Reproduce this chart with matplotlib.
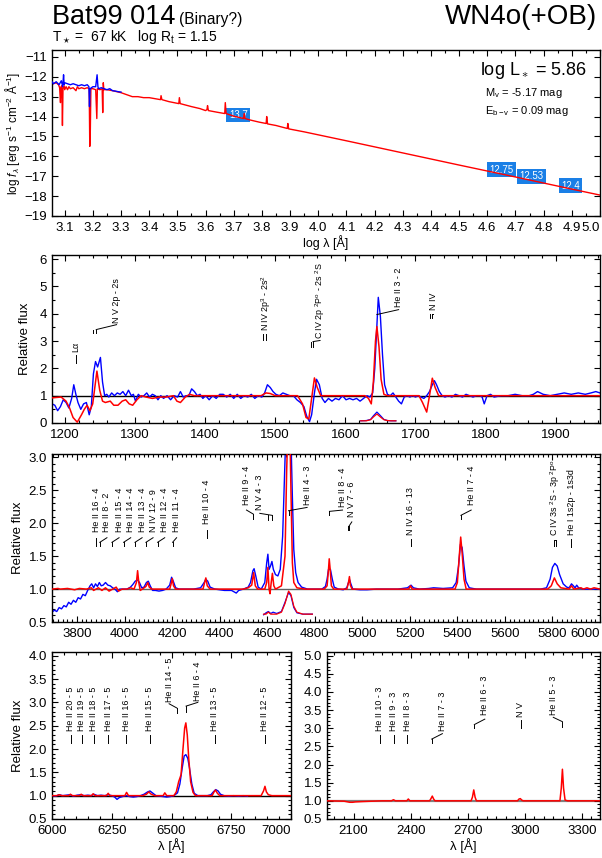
import numpy as np
import matplotlib
matplotlib.use("Agg")
import matplotlib.pyplot as plt
from matplotlib.ticker import MultipleLocator, FormatStrFormatter

# ---------------- data ----------------
# SED panel (log lambda / log f_lambda)
sed_model_x = [3.055, 3.060, 3.070, 3.078, 3.082, 3.085, 3.087, 3.090, 3.092, 3.094, 3.098,
               3.100, 3.105, 3.110, 3.115, 3.120, 3.130, 3.140, 3.145, 3.150, 3.160, 3.170,
               3.180, 3.187, 3.189, 3.191, 3.193, 3.200, 3.210, 3.214, 3.216, 3.225, 3.233,
               3.235, 3.237, 3.239, 3.250, 3.270, 3.300, 3.320, 3.330, 3.340, 3.360, 3.380,
               3.400, 3.440, 3.442, 3.445, 3.470, 3.505, 3.507, 3.510, 3.550, 3.580, 3.600,
               3.605, 3.607, 3.610, 3.640, 3.668, 3.670, 3.673, 3.700, 3.735, 3.737, 3.740,
               3.760, 3.790, 3.815, 3.817, 3.820, 3.850, 3.890, 3.892, 3.895, 3.950, 4.100,
               4.300, 4.500, 4.700, 4.900, 5.000]
sed_model_y = [-12.28, -12.35, -12.30, -12.40, -12.55, -13.30, -12.50, -12.45, -14.45, -12.60, -12.45,
               -12.65, -12.50, -12.65, -12.50, -12.60, -12.55, -12.70, -12.50, -12.60, -12.55, -12.60,
               -12.55, -12.60, -15.50, -14.70, -12.60, -12.60, -12.65, -14.10, -12.60, -12.65, -12.60,
               -13.80, -12.30, -12.65, -12.65, -12.70, -12.80, -12.90, -12.95, -13.00, -13.00, -13.05,
               -13.05, -13.15, -12.95, -13.15, -13.25, -13.35, -13.05, -13.35, -13.50, -13.60, -13.70,
               -13.65, -13.45, -13.70, -13.78, -13.85, -13.30, -13.85, -13.98, -14.10, -13.85, -14.10,
               -14.18, -14.28, -14.35, -14.00, -14.37, -14.45, -14.60, -14.35, -14.62, -14.77, -15.22,
               -15.83, -16.44, -17.04, -17.65, -17.95]
sed_obs_x = [3.055, 3.060, 3.070, 3.080, 3.088, 3.093, 3.096, 3.098, 3.100, 3.110, 3.120,
             3.130, 3.140, 3.150, 3.160, 3.170, 3.180, 3.186, 3.188, 3.190, 3.200, 3.210,
             3.215, 3.218, 3.220, 3.230, 3.240, 3.250, 3.260, 3.270, 3.280, 3.290, 3.300]
sed_obs_y = [-12.25, -12.35, -12.25, -12.40, -12.20, -12.50, -11.90, -12.40, -12.30, -12.35, -12.40,
             -12.35, -12.40, -12.45, -12.40, -12.45, -12.40, -12.50, -13.50, -12.60, -12.50, -12.50,
             -11.90, -12.50, -12.60, -12.55, -12.60, -12.65, -12.60, -12.70, -12.72, -12.75, -12.77]
phot_x = [3.716, 4.650, 4.757, 4.895]
phot_y = [-13.92, -16.68, -17.00, -17.48]
phot_mag = ["13.7", "12.75", "12.53", "12.4"]

# UV panel
uv_obs_w = [1182, 1186, 1190, 1194, 1198, 1202, 1206, 1210, 1213, 1216, 1219, 1223, 1227, 1231,
            1235, 1238, 1241, 1244, 1247, 1251, 1254, 1257, 1260, 1263, 1267, 1271, 1275, 1279,
            1283, 1287, 1291, 1295, 1298, 1301, 1305, 1309, 1313, 1317, 1321, 1325, 1329, 1333,
            1337, 1341, 1346, 1351, 1356, 1361, 1365, 1369, 1373, 1377, 1381, 1385, 1389, 1393,
            1397, 1401, 1406, 1411, 1416, 1421, 1426, 1431, 1436, 1441, 1446, 1451, 1456, 1461,
            1466, 1471, 1476, 1481, 1485, 1489, 1493, 1497, 1501, 1506, 1511, 1516, 1521, 1526,
            1531, 1536, 1541, 1545, 1549, 1552, 1556, 1559, 1563, 1567, 1571, 1576, 1581, 1586,
            1591, 1596, 1601, 1606, 1611, 1616, 1621, 1626, 1631, 1635, 1639, 1642, 1645, 1647,
            1650, 1653, 1656, 1660, 1664, 1668, 1672, 1676, 1680, 1684, 1688, 1692, 1696, 1700,
            1704, 1708, 1712, 1716, 1720, 1724, 1727, 1730, 1734, 1738, 1742, 1747, 1752, 1757,
            1762, 1767, 1772, 1777, 1782, 1787, 1792, 1795, 1798, 1802, 1807, 1812, 1822, 1832,
            1842, 1852, 1862, 1868, 1874, 1882, 1892, 1902, 1912, 1922, 1932, 1942, 1950, 1957,
            1963]
uv_obs_f = [0.70, 0.65, 0.45, 0.60, 0.85, 0.75, 0.55, 0.90, 1.40, 1.05, 0.75, 0.50, 0.70, 0.75,
            0.30, 0.60, 1.80, 2.25, 2.05, 2.40, 1.50, 1.00, 1.05, 0.95, 1.10, 1.00, 1.10, 1.05,
            1.15, 1.00, 1.20, 1.00, 1.05, 0.80, 1.05, 0.95, 1.00, 1.10, 0.95, 1.05, 1.00, 0.85,
            1.00, 0.90, 1.00, 0.85, 1.00, 0.95, 1.15, 0.95, 1.00, 1.00, 1.25, 1.15, 1.00, 1.05,
            0.90, 1.00, 0.85, 1.00, 0.90, 1.05, 1.05, 0.95, 1.05, 0.90, 1.05, 0.90, 1.00, 0.95,
            1.05, 0.90, 1.00, 0.95, 1.10, 1.40, 1.30, 1.15, 1.05, 1.00, 1.10, 1.05, 1.00, 1.00,
            0.85, 0.75, 0.60, 0.25, 0.05, 0.30, 1.10, 1.60, 1.40, 0.90, 0.75, 0.90, 0.80, 0.90,
            0.85, 1.00, 0.85, 0.90, 0.85, 0.90, 0.80, 0.90, 1.00, 0.95, 1.10, 2.00, 3.60, 4.60,
            3.90, 2.50, 1.40, 1.05, 1.00, 1.10, 0.95, 0.80, 0.70, 0.95, 1.00, 0.95, 1.00, 0.95,
            1.00, 0.95, 0.90, 1.00, 1.15, 1.40, 1.55, 1.40, 1.15, 1.00, 0.95, 1.00, 0.95, 1.05,
            1.00, 0.95, 1.05, 1.00, 0.95, 1.00, 1.00, 0.95, 0.70, 1.00, 1.05, 0.95, 1.00, 1.00,
            1.05, 1.00, 1.00, 1.05, 1.15, 1.05, 1.00, 1.05, 1.10, 1.05, 1.10, 1.05, 1.10, 1.15,
            1.10]
uv_mod_w = [1182, 1195, 1202, 1207, 1212, 1218, 1224, 1228, 1232, 1236, 1240, 1243, 1246, 1250,
            1254, 1258, 1265, 1270, 1276, 1282, 1287, 1292, 1297, 1303, 1309, 1316, 1325, 1335,
            1345, 1355, 1360, 1365, 1372, 1378, 1385, 1480, 1487, 1493, 1500, 1532, 1539, 1544,
            1548, 1552, 1556, 1560, 1565, 1628, 1633, 1637, 1640, 1643, 1645, 1648, 1651, 1655,
            1660, 1705, 1710, 1716, 1720, 1724, 1728, 1733, 1963]
uv_mod_f = [0.92, 0.95, 0.80, 0.55, 0.20, 0.03, 0.30, 0.50, 0.65, 0.45, 0.70, 1.30, 1.90, 1.20,
            0.80, 0.75, 0.80, 0.65, 0.65, 0.80, 0.85, 0.70, 0.65, 0.85, 1.00, 0.95, 0.90, 0.95,
            0.95, 1.00, 0.80, 0.75, 0.95, 1.05, 1.00, 1.00, 1.10, 1.08, 1.00, 1.00, 0.70, 0.20,
            0.15, 0.90, 1.65, 1.30, 1.00, 1.00, 0.90, 0.70, 1.50, 3.00, 3.53, 2.80, 1.60, 1.05,
            1.00, 1.00, 0.75, 0.40, 1.00, 1.64, 1.30, 1.00, 1.00]
uv_inset_w = [1622, 1630, 1636, 1640, 1645, 1650, 1655, 1660, 1665, 1672]
uv_inset_mod = [0.08, 0.08, 0.12, 0.22, 0.33, 0.22, 0.12, 0.09, 0.08, 0.08]
uv_inset_obs = [0.08, 0.09, 0.13, 0.26, 0.40, 0.27, 0.13, 0.09, 0.08, 0.08]

# optical panel
opt_obs_w = [3695, 3705, 3715, 3725, 3735, 3745, 3755, 3765, 3775, 3785, 3795, 3805, 3815, 3825,
             3835, 3845, 3855, 3862, 3870, 3878, 3886, 3894, 3902, 3910, 3920, 3930, 3940, 3950,
             3960, 3970, 3980, 3995, 4010, 4025, 4035, 4045, 4055, 4063, 4072, 4082, 4092, 4100,
             4108, 4118, 4130, 4145, 4160, 4175, 4190, 4198, 4205, 4215, 4230, 4260, 4290, 4320,
             4335, 4342, 4350, 4360, 4380, 4420, 4450, 4470, 4480, 4500, 4520, 4530, 4540, 4545,
             4552, 4562, 4575, 4590, 4598, 4603, 4608, 4614, 4620, 4626, 4635, 4645, 4655, 4665,
             4672, 4678, 4700, 4706, 4712, 4720, 4730, 4745, 4770, 4800, 4830, 4845, 4852, 4858,
             4866, 4874, 4882, 4900, 4920, 4935, 4942, 4947, 4952, 4960, 4990, 5020, 5060, 5100,
             5150, 5190, 5205, 5215, 5240, 5280, 5300, 5340, 5380, 5395, 5405, 5413, 5420, 5428,
             5436, 5450, 5480, 5550, 5600, 5650, 5700, 5750, 5775, 5790, 5800, 5810, 5820, 5830,
             5845, 5860, 5870, 5880, 5888, 5895, 5902, 5910, 5930, 5960, 6000]
opt_obs_f = [0.65, 0.68, 0.66, 0.72, 0.70, 0.75, 0.73, 0.80, 0.77, 0.83, 0.80, 0.87, 0.85, 0.92,
             0.90, 0.98, 1.05, 1.08, 1.02, 1.08, 1.04, 1.10, 1.05, 1.06, 1.10, 1.06, 1.05, 1.02,
             1.00, 0.96, 1.00, 1.00, 1.00, 1.03, 1.07, 1.12, 1.14, 1.10, 1.02, 1.03, 1.10, 1.12,
             1.05, 0.98, 0.98, 0.97, 0.98, 1.00, 1.06, 1.18, 1.12, 1.02, 1.00, 1.00, 1.00, 1.02,
             1.10, 1.15, 1.12, 1.03, 1.00, 0.98, 0.98, 0.94, 0.98, 1.00, 1.03, 1.10, 1.28, 1.31,
             1.20, 1.03, 1.00, 1.10, 1.40, 1.53, 1.30, 1.35, 1.42, 1.30, 1.22, 1.20, 1.30, 1.80,
             2.60, 3.30, 3.30, 2.40, 1.60, 1.25, 1.10, 1.03, 1.00, 1.00, 1.00, 1.04, 1.15, 1.30,
             1.30, 1.15, 1.03, 1.00, 0.99, 1.02, 1.10, 1.14, 1.08, 1.00, 0.99, 0.99, 1.00, 1.00,
             1.00, 1.02, 1.06, 1.02, 1.00, 1.01, 1.02, 1.01, 1.02, 1.10, 1.35, 1.68, 1.63, 1.35,
             1.12, 1.02, 1.00, 1.00, 1.00, 1.00, 1.00, 1.00, 1.02, 1.15, 1.33, 1.39, 1.35, 1.22,
             1.08, 1.03, 1.02, 1.08, 1.05, 1.02, 1.06, 1.02, 1.00, 1.00, 1.00]
opt_mod_w = [3695, 3720, 3730, 3760, 3790, 3810, 3840, 3860, 3870, 3890, 3905, 3920, 3935, 3950,
             3965, 3975, 3990, 4010, 4025, 4040, 4050, 4055, 4060, 4066, 4075, 4090, 4098, 4104,
             4115, 4150, 4190, 4196, 4201, 4206, 4215, 4300, 4330, 4337, 4342, 4348, 4360, 4500,
             4520, 4535, 4543, 4550, 4560, 4590, 4598, 4603, 4608, 4612, 4617, 4622, 4628, 4635,
             4660, 4675, 4682, 4686, 4696, 4700, 4706, 4712, 4725, 4760, 4840, 4852, 4858, 4861,
             4865, 4870, 4880, 4935, 4942, 4946, 4950, 4957, 5195, 5203, 5210, 5390, 5400, 5408,
             5414, 5420, 5428, 5437, 5780, 5795, 5808, 5820, 5835, 5870, 5880, 5890, 5920, 5930,
             5945, 5960, 5975, 6000]
opt_mod_f = [1.00, 1.01, 1.00, 1.01, 0.99, 1.01, 1.00, 1.02, 0.98, 1.02, 0.98, 1.02, 0.97, 1.00,
             1.03, 0.97, 1.00, 1.00, 1.02, 1.00, 1.10, 1.28, 1.10, 0.98, 1.00, 1.04, 1.10, 1.03,
             1.00, 1.00, 1.00, 1.08, 1.16, 1.05, 1.00, 1.00, 1.00, 1.10, 1.17, 1.05, 1.00, 1.00,
             1.02, 1.06, 1.25, 1.05, 1.00, 1.00, 1.10, 1.33, 1.00, 0.93, 1.10, 1.24, 1.05, 1.00,
             1.05, 1.50, 2.80, 3.30, 3.30, 2.50, 1.40, 1.10, 1.02, 1.00, 1.00, 1.05, 1.30, 1.46,
             1.30, 1.05, 1.00, 1.00, 1.10, 1.19, 1.06, 1.00, 1.00, 1.05, 1.00, 1.00, 1.10, 1.50,
             1.79, 1.55, 1.15, 1.00, 1.00, 1.05, 1.17, 1.08, 1.02, 1.00, 1.05, 1.00, 1.02, 1.00,
             1.02, 1.00, 1.02, 1.00]
opt_inset_w = [4585, 4595, 4605, 4615, 4625, 4640, 4660, 4675, 4690, 4700, 4712, 4725, 4750, 4790]
opt_inset_mod = [0.62, 0.62, 0.65, 0.62, 0.62, 0.62, 0.65, 0.78, 0.97, 0.92, 0.74, 0.65, 0.62, 0.62]
opt_inset_obs = [0.61, 0.64, 0.66, 0.63, 0.65, 0.63, 0.66, 0.80, 0.95, 0.90, 0.72, 0.64, 0.62, 0.62]

# red optical panel
red_mod_w = [6000, 6020, 6030, 6040, 6070, 6077, 6085, 6115, 6122, 6130, 6165, 6172, 6180, 6228,
             6235, 6242, 6305, 6312, 6320, 6380, 6395, 6405, 6415, 6430, 6465, 6472, 6480, 6510,
             6520, 6530, 6540, 6548, 6555, 6560, 6566, 6572, 6580, 6590, 6600, 6670, 6678, 6684,
             6692, 6702, 6875, 6885, 6891, 6897, 6905, 6920, 7000]
red_mod_f = [1.00, 1.00, 1.02, 1.00, 1.00, 1.03, 1.00, 1.00, 1.03, 1.00, 1.00, 1.04, 1.00, 1.00,
             1.05, 1.00, 1.00, 1.07, 1.00, 1.00, 1.03, 1.08, 1.03, 1.00, 1.00, 1.06, 1.00, 1.00,
             1.08, 1.30, 1.45, 2.00, 2.45, 2.56, 2.30, 1.80, 1.30, 1.07, 1.00, 1.00, 1.08, 1.12,
             1.05, 1.00, 1.00, 1.10, 1.20, 1.08, 1.02, 1.00, 1.00]
red_obs_w = [6000, 6015, 6030, 6045, 6060, 6075, 6090, 6105, 6120, 6135, 6150, 6165, 6175, 6190,
             6205, 6220, 6235, 6250, 6262, 6272, 6282, 6295, 6310, 6325, 6340, 6355, 6370, 6385,
             6400, 6410, 6420, 6435, 6450, 6465, 6480, 6495, 6510, 6525, 6535, 6545, 6553, 6560,
             6568, 6575, 6585, 6595, 6610, 6630, 6650, 6665, 6675, 6685, 6695, 6705, 6720, 6740,
             6760, 6780, 6800, 6818]
red_obs_f = [1.00, 0.99, 1.02, 1.00, 1.01, 1.02, 0.99, 1.01, 1.02, 1.00, 1.01, 1.00, 1.03, 1.00,
             1.01, 1.00, 1.02, 1.00, 0.97, 0.92, 0.96, 0.98, 1.00, 0.98, 0.97, 0.98, 1.00, 1.03,
             1.08, 1.10, 1.06, 1.00, 0.99, 0.98, 0.97, 0.98, 1.00, 1.06, 1.25, 1.60, 1.85, 1.88,
             1.80, 1.60, 1.25, 1.05, 1.00, 1.00, 1.00, 1.02, 1.08, 1.13, 1.10, 1.03, 1.00, 0.99,
             1.00, 0.99, 1.00, 0.99]

# near-UV panel
nuv_mod_w = [1960, 2050, 2080, 2095, 2110, 2150, 2200, 2250, 2300, 2310, 2320, 2380, 2388, 2396,
             2500, 2507, 2514, 2521, 2528, 2718, 2725, 2732, 2739, 2746, 2962, 2970, 2977, 2984,
             2992, 3185, 3192, 3198, 3204, 3212, 3225, 3395]
nuv_mod_f = [1.00, 0.99, 0.96, 0.96, 0.97, 0.98, 0.99, 1.00, 1.00, 1.03, 1.00, 1.00, 1.05, 1.00,
             1.00, 1.06, 1.13, 1.05, 1.00, 1.00, 1.10, 1.30, 1.10, 1.00, 1.00, 1.05, 1.06, 1.02,
             1.00, 1.00, 1.35, 1.87, 1.35, 1.02, 1.00, 1.00]

# tick labels
sed_xticks = [3.1, 3.2, 3.3, 3.4, 3.5, 3.6, 3.7, 3.8, 3.9, 4.0,
              4.1, 4.2, 4.3, 4.4, 4.5, 4.6, 4.7, 4.8, 4.9, 5.0]
opt_xticks = [3800, 4000, 4200, 4400, 4600, 4800, 5000, 5200, 5400, 5600, 5800, 6000]
red_xticks = [6000, 6250, 6500, 6750, 7000]

# line identifications: (label, line positions, tick y0, tick y1, text x, connector end y, text y)
uv_ids = [
    ("Lα", [1216], 2.20, 2.50, 1216, 2.50, 2.60),
    ("N V 2p - 2s", [1241, 1245], 3.30, 3.42, 1274, 3.60, 3.66),
    ("N IV 2p$^3$ - 2s$^2$", [1483, 1487], 3.05, 3.25, 1487, 3.25, 3.35),
    ("C IV 2p $^2$P$^\\mathrm{o}$ - 2s $^2$S", [1551, 1554], 2.80, 2.98, 1564, 3.02, 3.08),
    ("He II 3 - 2", [1645], 3.97, 3.97, 1676, 4.15, 4.25),
    ("N IV", [1721, 1724], 3.85, 4.00, 1725, 4.00, 4.13),
]
opt_ids = [
    ("He II 16 - 4", [3882], 1.66, 1.77, 3882, 1.77, 1.86),
    ("He II 8 - 2", [3896], 1.66, 1.71, 3926, 1.78, 1.86),
    ("He II 15 - 4", [3947], 1.66, 1.71, 3977, 1.78, 1.86),
    ("He II 14 - 4", [3996], 1.66, 1.71, 4026, 1.78, 1.86),
    ("He II 13 - 4", [4044], 1.66, 1.71, 4074, 1.78, 1.86),
    ("N IV 12 - 9", [4090], 1.66, 1.71, 4120, 1.78, 1.86),
    ("He II 12 - 4", [4139], 1.66, 1.71, 4169, 1.78, 1.86),
    ("He II 11 - 4", [4202], 1.66, 1.71, 4219, 1.78, 1.86),
    ("He II 10 - 4", [4345], 1.77, 1.89, 4345, 1.89, 1.99),
    ("He II 9 - 4", [4541], 2.06, 2.14, 4513, 2.20, 2.27),
    ("N V 4 - 3", [4604, 4620], 2.05, 2.12, 4569, 2.15, 2.20),
    ("He II 4 - 3", [4690], 2.12, 2.19, 4768, 2.24, 2.27),
    ("He II 8 - 4", [4862], 2.12, 2.18, 4917, 2.20, 2.24),
    ("N V 7 - 6", [4940, 4945], 1.89, 1.96, 4956, 2.02, 2.09),
    ("N IV 16 - 13", [5204], 1.65, 1.76, 5204, 1.76, 1.82),
    ("He II 7 - 4", [5415], 2.06, 2.12, 5458, 2.20, 2.27),
    ("C IV 3s $^2$S - 3p $^2$P$^\\mathrm{o}$", [5807, 5813], 1.65, 1.75, 5811, 1.75, 1.81),
    ("He I 1s2p - 1s3d", [5880], 1.64, 1.76, 5880, 1.76, 1.82),
]
red_ids = [
    ("He II 20 - 5", [6078], 2.13, 2.30, 6078, 2.30, 2.38),
    ("He II 19 - 5", [6124], 2.13, 2.30, 6124, 2.30, 2.38),
    ("He II 18 - 5", [6175], 2.13, 2.30, 6175, 2.30, 2.38),
    ("He II 17 - 5", [6235], 2.13, 2.30, 6235, 2.30, 2.38),
    ("He II 16 - 5", [6311], 2.13, 2.30, 6311, 2.30, 2.38),
    ("He II 15 - 5", [6408], 2.13, 2.30, 6408, 2.30, 2.38),
    ("He II 14 - 5", [6522], 2.77, 2.88, 6490, 2.97, 3.00),
    ("He II 6 - 4", [6561], 2.80, 2.92, 6610, 3.00, 3.03),
    ("He II 13 - 5", [6680], 2.13, 2.30, 6680, 2.30, 2.38),
    ("He II 12 - 5", [6890], 2.13, 2.30, 6890, 2.30, 2.38),
]
nuv_ids = [
    ("He II 10 - 3", [2239], 2.60, 2.82, 2239, 2.82, 2.92),
    ("He II 9 - 3", [2312], 2.60, 2.82, 2312, 2.82, 2.92),
    ("He II 8 - 3", [2382], 2.60, 2.82, 2382, 2.82, 2.92),
    ("He II 7 - 3", [2511], 2.60, 2.70, 2567, 2.85, 2.92),
    ("He II 6 - 3", [2735], 3.00, 3.10, 2790, 3.25, 3.36),
    ("N V", [2980], 3.01, 3.23, 2980, 3.23, 3.32),
    ("He II 5 - 3", [3198], 3.03, 3.18, 3150, 3.30, 3.36),
]

# ---------------- plotting ----------------
plt.rcParams["font.family"] = ["Liberation Sans", "DejaVu Sans"]
plt.rcParams["mathtext.fontset"] = "custom"
plt.rcParams["mathtext.rm"] = "Liberation Sans"
plt.rcParams["mathtext.it"] = "Liberation Sans:italic"
plt.rcParams["mathtext.bf"] = "Liberation Sans:bold"

RED = "#ff0000"
BLUE = "#0000ff"


def style(ax, xmaj, xmin, ymaj, ymin):
    if np.iterable(xmaj):
        ax.set_xticks(xmaj)
    else:
        ax.xaxis.set_major_locator(MultipleLocator(xmaj))
    ax.xaxis.set_minor_locator(MultipleLocator(xmin))
    ax.yaxis.set_major_locator(MultipleLocator(ymaj))
    if ymin:
        ax.yaxis.set_minor_locator(MultipleLocator(ymin))
    ax.tick_params(which="both", direction="in", top=True, right=True, labelsize=9.5, width=0.8)
    ax.tick_params(which="major", length=4.5)
    ax.tick_params(which="minor", length=2.3)
    ax.tick_params(axis="x", pad=4)
    for s in ax.spines.values():
        s.set_linewidth(1.0)


def last_label_right(ax, fmt):
    ticks = ax.get_xticks()
    labels = ax.set_xticklabels([fmt % t for t in ticks])
    labels[-1].set_horizontalalignment("right")


def ident(ax, ids, fs=6.4):
    for label, lines, y0, y1, xt, y2, yt in ids:
        for xl in lines:
            ax.plot([xl, xl], [y0, y1], color="black", lw=0.7, zorder=5)
        xc = lines[-1]
        if xt != xc or y2 != y1:
            ax.plot([xc, xt], [y1, y2], color="black", lw=0.7, zorder=5)
        ax.text(xt, yt, label, rotation=90, ha="center", va="bottom", fontsize=fs, zorder=5)


fig = plt.figure(figsize=(6.02, 8.58), dpi=100)

# header
fig.text(0.0864, 0.9715, "Bat99 014", fontsize=19.5, va="baseline")
fig.text(0.297, 0.9715, "(Binary?)", fontsize=11.2, va="baseline")
fig.text(0.0864, 0.9525, "T$_\\star$ =  67 kK   log R$_\\mathrm{t}$ = 1.15", fontsize=10, va="baseline")
fig.text(0.992, 0.9715, "WN4o(+OB)", fontsize=20, va="baseline", ha="right")

# SED
ax = fig.add_axes([0.0864, 0.7483, 0.9103, 0.1935])
for x, y, m in zip(phot_x, phot_y, phot_mag):
    ax.text(x, y, m, fontsize=7, color="white", ha="center", va="center", zorder=1,
            bbox=dict(boxstyle="square,pad=0.25", fc="#1a7fe6", ec="none"))
ax.plot(sed_model_x, sed_model_y, color=RED, lw=1.0, zorder=2)
ax.plot(sed_obs_x, sed_obs_y, color=BLUE, lw=1.0, zorder=3)
ax.set_xlim(3.055, 5.0)
ax.set_ylim(-19, -10.65)
style(ax, sed_xticks, 0.05, 1, None)
last_label_right(ax, "%.1f")
ax.set_xlabel("log λ [Å]", fontsize=9, labelpad=1)
ax.set_ylabel("log $f_\\lambda$ [erg s$^{-1}$ cm$^{-2}$ Å$^{-1}$]", fontsize=8.5, labelpad=2)
ax.text(0.976, 0.876, "log L$_\\ast$ = 5.86", transform=ax.transAxes, fontsize=13,
        ha="right", va="center")
ax.text(0.79, 0.741, "M$_\\mathrm{v}$ = -5.17 mag", transform=ax.transAxes, fontsize=8,
        ha="left", va="center")
ax.text(0.79, 0.632, "E$_\\mathrm{b-v}$ = 0.09 mag", transform=ax.transAxes, fontsize=8,
        ha="left", va="center")

# UV
ax = fig.add_axes([0.0864, 0.507, 0.9103, 0.1958])
ax.axhline(1.0, color="black", lw=1.0, zorder=1)
ax.plot(uv_mod_w, uv_mod_f, color=RED, lw=1.1, zorder=3)
ax.plot(uv_obs_w, uv_obs_f, color=BLUE, lw=1.0, zorder=2)
ax.plot(uv_inset_w, uv_inset_obs, color=BLUE, lw=0.9, zorder=2)
ax.plot(uv_inset_w, uv_inset_mod, color=RED, lw=0.9, zorder=3)
ax.set_xlim(1182, 1963)
ax.set_ylim(0, 6.15)
style(ax, 100, 20, 1, 0.5)
ax.set_ylabel("Relative flux", fontsize=9.5, labelpad=6)
ident(ax, uv_ids)

# optical
ax = fig.add_axes([0.0864, 0.275, 0.9103, 0.1958])
ax.axhline(1.0, color="#606060", lw=1.0, zorder=1)
ax.plot(opt_mod_w, opt_mod_f, color=RED, lw=1.1, zorder=3)
ax.plot(opt_obs_w, opt_obs_f, color=BLUE, lw=1.0, zorder=2)
ax.plot(opt_inset_w, opt_inset_obs, color=BLUE, lw=0.9, zorder=2)
ax.plot(opt_inset_w, opt_inset_mod, color=RED, lw=0.9, zorder=3)
ax.set_xlim(3695, 6000)
ax.set_ylim(0.5, 3.05)
style(ax, opt_xticks, 20, 0.5, 0.1)
last_label_right(ax, "%d")
ax.yaxis.set_major_formatter(FormatStrFormatter("%.1f"))
ax.set_ylabel("Relative flux", fontsize=9.5, labelpad=3)
ident(ax, opt_ids)

# red
ax = fig.add_axes([0.0864, 0.0455, 0.397, 0.1946])
ax.axhline(1.0, color="black", lw=1.0, zorder=1)
ax.plot(red_mod_w, red_mod_f, color=RED, lw=1.1, zorder=3)
ax.plot(red_obs_w, red_obs_f, color=BLUE, lw=1.0, zorder=2)
ax.set_xlim(6000, 7000)
ax.set_ylim(0.5, 4.08)
style(ax, red_xticks, 50, 0.5, 0.1)
last_label_right(ax, "%d")
ax.yaxis.set_major_formatter(FormatStrFormatter("%.1f"))
ax.set_ylabel("Relative flux", fontsize=9.5, labelpad=3)
ax.set_xlabel("λ [Å]", fontsize=9.5, labelpad=1)
ident(ax, red_ids)

# near UV
ax = fig.add_axes([0.543, 0.0455, 0.4535, 0.1946])
ax.axhline(1.0, color="#808080", lw=1.6, zorder=1)
ax.plot(nuv_mod_w, nuv_mod_f, color=RED, lw=1.1, zorder=3)
ax.set_xlim(1960, 3395)
ax.set_ylim(0.5, 5.1)
style(ax, 300, 50, 0.5, 0.1)
ax.yaxis.set_major_formatter(FormatStrFormatter("%.1f"))
ax.set_xlabel("λ [Å]", fontsize=9.5, labelpad=1)
ident(ax, nuv_ids)

fig.savefig("out.png", dpi=100)
